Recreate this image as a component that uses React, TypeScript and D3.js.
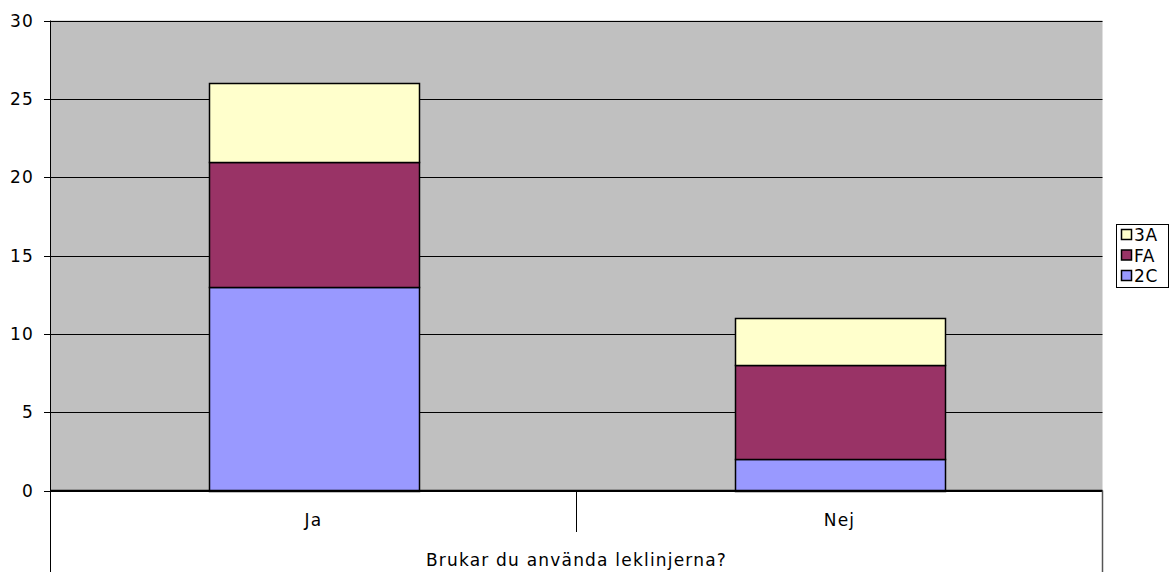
import React from "react";
import * as d3 from "d3";

const categories = ["Ja", "Nej"];
const seriesNames = ["2C", "FA", "3A"];
const values2C = [13, 2];
const valuesFA = [8, 6];
const values3A = [5, 3];
const yTicks = [0, 5, 10, 15, 20, 25, 30];
const axisTitle = "Brukar du använda leklinjerna?";
const colors = ["#9999FF", "#993366", "#FFFFCC"];

export default function App() {
  const W = 1173, H = 572;
  const left = 50.5, right = 1102.5, top = 20.5, bottom = 490.5;
  const x = d3.scaleBand().domain(categories).range([left, right]).paddingInner(0).paddingOuter(0);
  const y = d3.scaleLinear().domain([0, 30]).range([bottom, top]);
  const barW = 210;
  const rows = categories.map((c, i) => ({ cat: c, "2C": values2C[i], FA: valuesFA[i], "3A": values3A[i] }));
  const stack = d3.stack<any>().keys(seriesNames)(rows);
  const font = "'DejaVu Sans', Verdana, sans-serif";
  const fs = 17;
  const ls = 1.2;
  const legendItems = [...seriesNames].reverse();
  return (
    <svg width={W} height={H} style={{ position: "absolute", left: 0, top: 0 }} fontFamily={font}>
      <rect x={0} y={0} width={W} height={H} fill="#fff" />
      <rect x={left} y={top} width={right - left} height={bottom - top} fill="#C0C0C0" />
      {yTicks.map((t) => (
        <g key={t}>
          <line x1={44} x2={right} y1={Math.round(y(t)) + 0.5} y2={Math.round(y(t)) + 0.5} stroke="#000" strokeWidth={1} />
          <text x={34} y={y(t) + 6} textAnchor="end" fontSize={fs} letterSpacing={ls} fill="#000">{t}</text>
        </g>
      ))}
      {stack.map((s, si) =>
        s.map((d, i) => {
          const cx = x(categories[i])! + x.bandwidth() / 2;
          return (
            <rect key={si + "-" + i} x={Math.round(cx - barW / 2) + 0.5} y={Math.round(y(d[1])) + 0.5}
              width={barW} height={Math.round(y(d[0])) - Math.round(y(d[1]))}
              fill={colors[si]} stroke="#000" strokeWidth={1.5} />
          );
        })
      )}
      <line x1={left} x2={left} y1={top} y2={H} stroke="#000" strokeWidth={1} />
      <line x1={right} x2={right} y1={bottom} y2={H} stroke="#555" strokeWidth={1.5} />
      <line x1={576.5} x2={576.5} y1={bottom} y2={532} stroke="#000" strokeWidth={1} />
      <line x1={left} x2={right} y1={bottom} y2={bottom} stroke="#000" strokeWidth={1.5} />
      {categories.map((c) => (
        <text key={c} x={x(c)! + x.bandwidth() / 2} y={526} textAnchor="middle" fontSize={fs} letterSpacing={ls} fill="#000">{c}</text>
      ))}
      <text x={(left + right) / 2} y={566} textAnchor="middle" fontSize={fs} letterSpacing={ls} fill="#000">{axisTitle}</text>
      <rect x={1116.5} y={224.5} width={52} height={63} fill="#fff" stroke="#000" strokeWidth={1} />
      {legendItems.map((n, i) => {
        const idx = seriesNames.indexOf(n);
        const cy = 235 + i * 20.5;
        return (
          <g key={n}>
            <rect x={1121.5} y={cy - 5.5} width={10} height={10} fill={colors[idx]} stroke="#000" strokeWidth={1.5} />
            <text x={1134} y={cy + 6} fontSize={fs} letterSpacing={ls * 0.5} fill="#000">{n}</text>
          </g>
        );
      })}
    </svg>
  );
}
